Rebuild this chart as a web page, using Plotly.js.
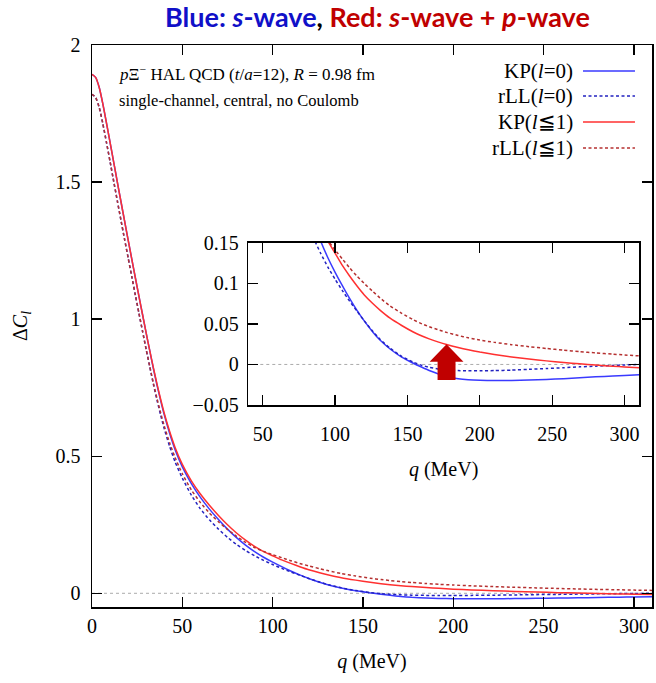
<!DOCTYPE html>
<html><head><meta charset="utf-8">
<script src="https://cdn.plot.ly/plotly-3.0.1.min.js"></script>
<style>html,body{margin:0;padding:0;background:#fff}</style>
</head><body><div id="chart" style="width:656px;height:683px"></div>
<script>
// momentum q (MeV)
const q = [0,2,4,6,8,10,12,14,16,18,20,22,24,26,28,30,32,34,36,38,40,43,46,50,55,60,65,70,75,80,85,90,95,100,105,110,115,120,126,131,138,146,154,160,165,171,177,185,192,200,210,222,234,246,258,269,280,292,300,310];
// KP(l=0)
const kpS = [1.893,1.882,1.845,1.785,1.716,1.645,1.573,1.501,1.43,1.359,1.289,1.22,1.151,1.083,1.016,0.949,0.884,0.819,0.759,0.703,0.651,0.583,0.524,0.461,0.400,0.350,0.307,0.269,0.234,0.203,0.176,0.152,0.1315,0.1135,0.097,0.0815,0.067,0.054,0.040,0.030,0.019,0.009,0.0015,-0.0035,-0.0075,-0.0115,-0.0148,-0.0175,-0.0188,-0.0195,-0.0198,-0.0198,-0.0193,-0.0185,-0.0175,-0.0164,-0.0153,-0.0142,-0.0135,-0.0127];
// rLL(l=0)
const rllS = [1.82,1.809,1.772,1.713,1.645,1.575,1.503,1.432,1.362,1.292,1.224,1.156,1.088,1.021,0.955,0.889,0.826,0.762,0.704,0.65,0.6,0.535,0.479,0.42,0.358,0.308,0.268,0.234,0.204,0.178,0.156,0.137,0.12,0.105,0.091,0.078,0.066,0.054,0.041,0.031,0.020,0.010,0.0028,-0.0012,-0.0035,-0.0055,-0.0068,-0.0076,-0.0079,-0.0079,-0.0076,-0.007,-0.006,-0.005,-0.004,-0.003,-0.0021,-0.0012,-0.0006,0];
// KP(l<=1)
const kpSP = [1.893,1.882,1.845,1.785,1.716,1.645,1.573,1.501,1.43,1.359,1.289,1.22,1.151,1.083,1.016,0.949,0.884,0.822,0.763,0.708,0.657,0.590,0.532,0.470,0.410,0.362,0.321,0.284,0.250,0.220,0.194,0.171,0.152,0.137,0.122,0.109,0.097,0.086,0.075,0.067,0.057,0.048,0.040,0.035,0.0315,0.0278,0.0245,0.0208,0.018,0.0152,0.0123,0.0093,0.0067,0.0044,0.0024,0.0007,-0.0008,-0.0022,-0.0031,-0.0042];
// rLL(l<=1)
const rllSP = [1.82,1.809,1.772,1.713,1.645,1.575,1.503,1.432,1.362,1.292,1.224,1.156,1.088,1.021,0.955,0.889,0.826,0.766,0.710,0.658,0.610,0.548,0.495,0.436,0.377,0.331,0.293,0.261,0.233,0.208,0.186,0.167,0.153,0.141,0.130,0.119,0.109,0.100,0.090,0.082,0.072,0.063,0.055,0.050,0.0465,0.0428,0.0395,0.0357,0.0328,0.030,0.0272,0.0244,0.0219,0.0197,0.0176,0.0158,0.0142,0.0127,0.0117,0.0106];

const seriesNames = ['KP(<i>l</i>=0)','rLL(<i>l</i>=0)','KP(<i>l</i>≦1)','rLL(<i>l</i>≦1)'];
const seriesData = [kpS, rllS, kpSP, rllSP];
const seriesColors = ['#3a3aff','#2222c0','#ff3030','#b53030'];
const seriesDash = ['solid','3px,2.5px','solid','3px,2.5px'];

const mainXTicks = [0,50,100,150,200,250,300];
const mainYTicks = [0,0.5,1,1.5,2];
const insetXTicks = [50,100,150,200,250,300];
const insetYTicks = [-0.05,0,0.05,0.1,0.15];
const insetYLabels = ['−0.05','0','0.05','0.1','0.15'];

const serif = 'Liberation Serif';
const traces = [];
for (let i = 0; i < 4; i++) {
  for (const ax of [['x','y'],['x2','y2']]) {
    traces.push({x:q, y:seriesData[i], xaxis:ax[0], yaxis:ax[1], type:'scatter', mode:'lines',
      line:{color:seriesColors[i], width:1.5, dash:seriesDash[i], shape:'spline', smoothing:0.5},
      showlegend:false, hoverinfo:'skip'});
  }
}

const axBase = {showline:true, linecolor:'#000', linewidth:1.5, mirror:'ticks', ticks:'inside',
  ticklen:10, tickwidth:1.3, tickcolor:'#000', showgrid:false, zeroline:false,
  tickfont:{family:serif, size:20, color:'#000'}};

// legend geometry (paper coords)
const legRows = [0.9537,0.9093,0.8630,0.8167];
const annotations = [];
const shapes = [];
for (let i = 0; i < 4; i++) {
  annotations.push({xref:'paper', yref:'paper', x:0.862, y:legRows[i], xanchor:'right', yanchor:'middle',
    text:seriesNames[i], showarrow:false, font:{family:serif, size:21, color:'#000'}});
  shapes.push({type:'line', xref:'paper', yref:'paper', x0:0.8768, x1:0.9696, y0:legRows[i], y1:legRows[i],
    line:{color:seriesColors[i], width:1.5, dash:seriesDash[i]}});
}
annotations.push({xref:'paper', yref:'paper', x:0.0446, y:0.9502, xanchor:'left', yanchor:'middle', showarrow:false,
  text:'<i>p</i>Ξ<sup>−</sup> HAL QCD (<i>t</i>/<i>a</i>=12), <i>R</i>\u00a0=\u00a00.98 fm', font:{family:serif, size:17, color:'#000'}});
annotations.push({xref:'paper', yref:'paper', x:0.0446, y:0.9021, xanchor:'left', yanchor:'middle', showarrow:false,
  text:'single-channel, central, no Coulomb', font:{family:serif, size:16.5, color:'#000'}});
annotations.push({xref:'paper', yref:'paper', x:0.509, y:1.050, xanchor:'center', yanchor:'middle', showarrow:false,
  text:'<b><span style="color:#1010c8">Blue: <i>s</i>-wave</span>, <span style="color:#c00000">Red: <i>s</i>-wave + <i>p</i>-wave</span></b>',
  font:{family:'Lato', size:27, color:'#000'}});

// zero reference lines
shapes.push({type:'line', xref:'x', yref:'y', x0:0, x1:310, y0:0, y1:0, layer:'below', line:{color:'#aaaaaa', width:1, dash:'dot'}});
shapes.push({type:'line', xref:'x2', yref:'y2', x0:40, x1:310, y0:0, y1:0, layer:'below', line:{color:'#aaaaaa', width:1, dash:'dot'}});
// red block arrow in inset
shapes.push({type:'path', xref:'x2', yref:'y2', fillcolor:'#c00000', line:{width:0},
  path:'M 170.8 -0.0193 L 183.2 -0.0193 L 183.2 0.0032 L 188.7 0.0032 L 177 0.025 L 165.3 0.0032 L 170.8 0.0032 Z'});

const layout = {
  width:656, height:683, margin:{l:92, r:4, t:45, b:76},
  font:{family:serif, size:20, color:'#000'},
  paper_bgcolor:'#fff', plot_bgcolor:'rgba(0,0,0,0)', showlegend:false,
  xaxis:Object.assign({}, axBase, {range:[0,310], tickvals:mainXTicks, domain:[0,1], anchor:'y',
    title:{text:'<i>q</i> (MeV)', font:{family:serif, size:20, color:'#000'}, standoff:18}}),
  yaxis:Object.assign({}, axBase, {range:[-0.05,2], tickvals:mainYTicks, domain:[0,1], anchor:'x',
    ticklabelstandoff:6,
    title:{text:'Δ<i>C</i><sub><i>l</i></sub>', font:{family:serif, size:20, color:'#000'}, standoff:22}}),
  xaxis2:Object.assign({}, axBase, {range:[40,310], tickvals:insetXTicks, domain:[0.2791,0.9768], anchor:'y2',
    ticklabelstandoff:10,
    title:{text:'<i>q</i> (MeV)', font:{family:serif, size:20, color:'#000'}, standoff:18}}),
  yaxis2:Object.assign({}, axBase, {range:[-0.05,0.15], tickvals:insetYTicks, ticktext:insetYLabels,
    domain:[0.3594,0.6482], anchor:'x2', ticklabelstandoff:4}),
  annotations:annotations, shapes:shapes
};
Plotly.newPlot('chart', traces, layout, {staticPlot:true, displayModeBar:false});
</script></body></html>
